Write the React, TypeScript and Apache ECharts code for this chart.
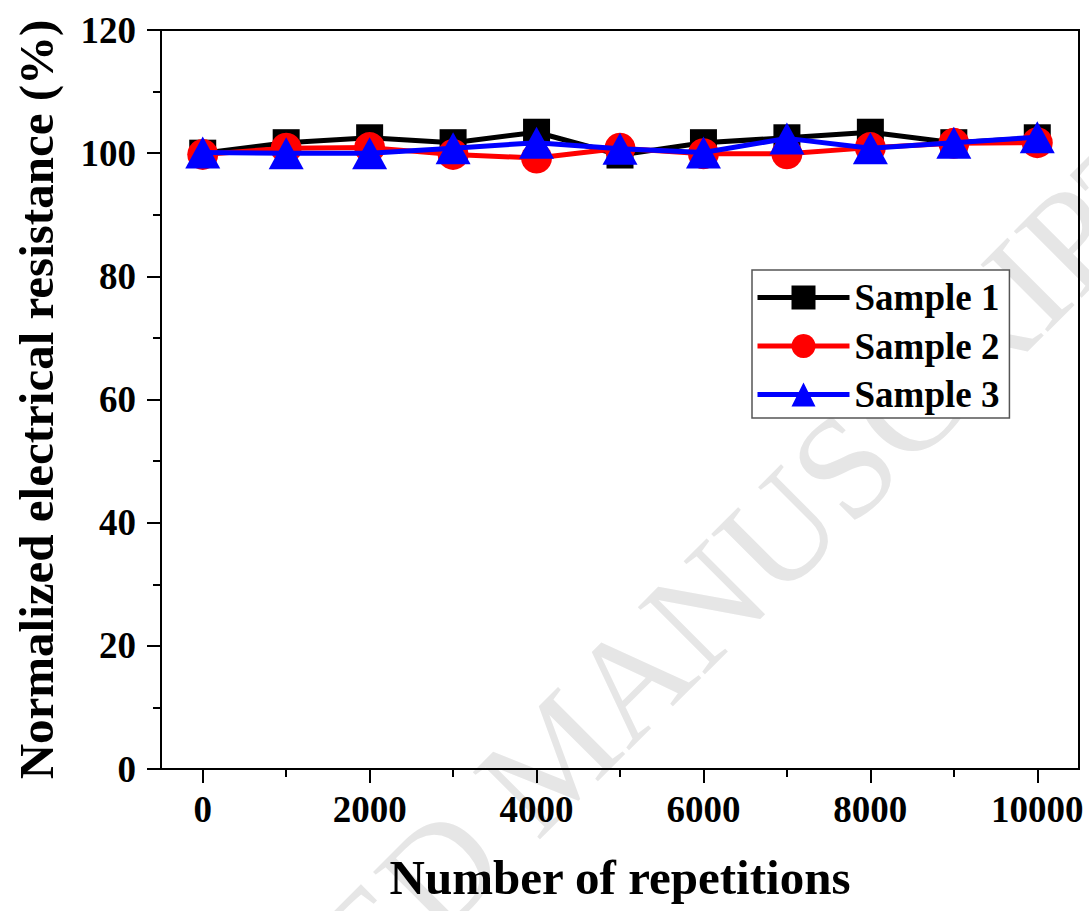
import React, { useEffect, useRef } from "react";
import * as echarts from "echarts";

const xValues = [0, 1000, 2000, 3000, 4000, 5000, 6000, 7000, 8000, 9000, 10000];
const sample1 = [100, 101.7, 102.5, 101.7, 103.4, 99.7, 101.7, 102.5, 103.4, 101.7, 102.5];
const sample2 = [99.8, 100.8, 100.9, 99.8, 99.2, 100.8, 99.9, 99.9, 100.9, 101.6, 101.7];
const sample3 = [100.1, 100, 100, 100.8, 101.7, 100.7, 100.1, 102.4, 100.8, 101.7, 102.6];
const majorXTicks = [0, 2000, 4000, 6000, 8000, 10000];
const minorXTicks = [1000, 3000, 5000, 7000, 9000];
const legendNames = ["Sample 1", "Sample 2", "Sample 3"];

const FONT = "'Liberation Serif', 'Times New Roman', serif";

export default function App() {
  const ref = useRef<HTMLDivElement>(null);
  useEffect(() => {
    if (!ref.current) return;
    const chart = echarts.init(ref.current, undefined, { renderer: "svg" });
    const mk = (arr: number[]) => xValues.map((x, i) => [x, arr[i]]);
    const lbl = { fontFamily: FONT, fontWeight: "bold", fontSize: 37, color: "#000" };
    chart.setOption({
      animation: false,
      backgroundColor: "#fff",
      graphic: [
        {
          type: "text",
          x: 555,
          y: 755,
          rotation: Math.PI / 4,
          z: -10,
          silent: true,
          style: {
            text: "ACCEPTED MANUSCRIPT",
            font: `145px ${FONT}`,
            fill: "#e6e6e6",
            align: "center",
            verticalAlign: "middle",
          },
        },
      ],
      grid: {
        left: 161,
        right: 10,
        top: 30,
        bottom: 142,
        outerBoundsMode: "none",
        containLabel: false,
        show: true,
        borderColor: "#000",
        borderWidth: 2,
        backgroundColor: "transparent",
      },
      legend: {
        left: 752,
        top: 270,
        orient: "vertical",
        itemWidth: 92,
        itemHeight: 30,
        itemGap: 11.5,
        padding: [9, 10, 5, 3],
        borderColor: "#555",
        borderWidth: 1.5,
        backgroundColor: "#fff",
        lineStyle: { width: 5 },
        textStyle: { ...lbl, lineHeight: 37, padding: [0, 0, 0, 0] },
        data: legendNames,
      },
      xAxis: [
        {
          type: "value",
          min: -500,
          max: 10500,
          position: "bottom",
          axisLine: { show: true, onZero: false, lineStyle: { color: "#000", width: 2 } },
          axisTick: { show: true, customValues: majorXTicks, length: 14, lineStyle: { color: "#000", width: 2 } },
          axisLabel: { ...lbl, customValues: majorXTicks, margin: 22, formatter: (v: number) => String(v) },
          splitLine: { show: false },
          name: "Number of repetitions",
          nameLocation: "middle",
          nameGap: 84,
          nameMoveOverlap: false,
          nameTextStyle: { fontFamily: FONT, fontWeight: "bold", fontSize: 49, color: "#000" },
        },
        {
          type: "value",
          min: -500,
          max: 10500,
          position: "bottom",
          axisLine: { show: false },
          axisTick: { show: true, customValues: minorXTicks, length: 8, lineStyle: { color: "#000", width: 2 } },
          axisLabel: { show: false },
          splitLine: { show: false },
        },
      ],
      yAxis: {
        type: "value",
        min: 0,
        max: 120,
        interval: 20,
        axisLine: { show: true, onZero: false, lineStyle: { color: "#000", width: 2 } },
        axisTick: { show: true, length: 14, lineStyle: { color: "#000", width: 2 } },
        minorTick: { show: true, splitNumber: 2, length: 8, lineStyle: { color: "#000", width: 2 } },
        axisLabel: { ...lbl, margin: 25 },
        splitLine: { show: false },
        name: "Normalized electrical resistance (%)",
        nameLocation: "middle",
        nameGap: 100,
        nameMoveOverlap: false,
        nameTextStyle: { fontFamily: FONT, fontWeight: "bold", fontSize: 49, color: "#000" },
      },
      series: [
        {
          name: "Sample 1",
          type: "line",
          data: mk(sample1),
          symbol: "rect",
          symbolSize: 27,
          lineStyle: { color: "#000", width: 5 },
          itemStyle: { color: "#000" },
          z: 2,
        },
        {
          name: "Sample 2",
          type: "line",
          data: mk(sample2),
          symbol: "circle",
          symbolSize: 31,
          lineStyle: { color: "#ff0000", width: 5 },
          itemStyle: { color: "#ff0000" },
          z: 3,
        },
        {
          name: "Sample 3",
          type: "line",
          data: mk(sample3),
          symbol: "triangle",
          symbolSize: [35, 32],
          lineStyle: { color: "#0000ff", width: 5 },
          itemStyle: { color: "#0000ff" },
          z: 4,
        },
      ],
    });
    return () => chart.dispose();
  }, []);
  return <div ref={ref} style={{ width: 1089, height: 911, position: "absolute", left: 0, top: 0 }} />;
}
